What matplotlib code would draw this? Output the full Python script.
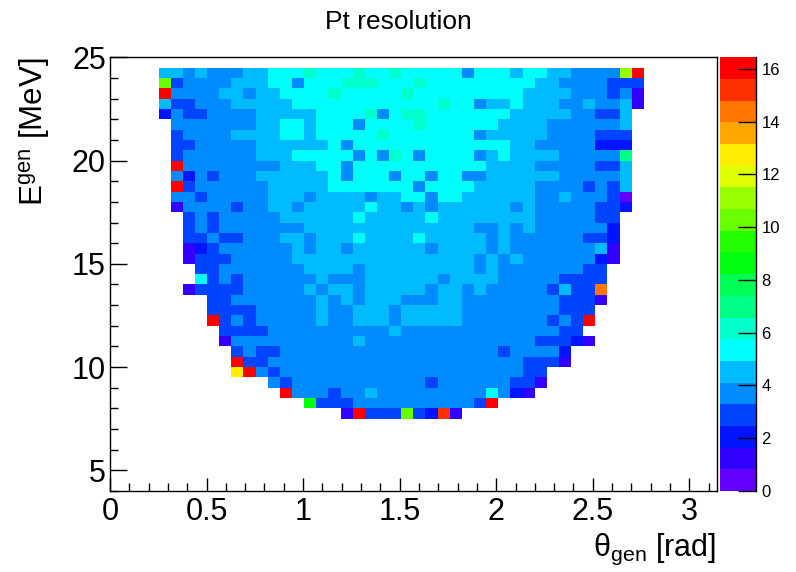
import colorsys

import numpy as np
import matplotlib
matplotlib.use("Agg")
import matplotlib.pyplot as plt
from matplotlib.colors import ListedColormap, BoundaryNorm
from matplotlib.ticker import MultipleLocator, FormatStrFormatter

plt.rcParams["font.family"] = ["Liberation Sans", "DejaVu Sans"]
plt.rcParams["mathtext.fontset"] = "custom"
plt.rcParams["mathtext.rm"] = "Liberation Sans"
plt.rcParams["mathtext.it"] = "Liberation Sans:italic"
plt.rcParams["mathtext.bf"] = "Liberation Sans:bold"

# =======================
# Binning (TH2: 50 bins in theta over [0, pi], 0.5 MeV bins in E over [4, 25])
# =======================
theta_edges = np.linspace(0.0, np.pi, 51)
e_edges = np.arange(4.0, 25.01, 0.5)
first_theta_bin = 4      # first filled theta column
top_row_e = 24.0         # lower edge of the first row below
z_max = 16.44
n_contours = 20

# colour band of each bin
# (0-9, a=10 ... j=19 ; '.' = empty bin), rows go from E=24.0-24.5 down to 7.5-8.0
level_rows = [
    "55454445566676" "6676676666646" "66566554444dj",
    "c3444455566466" "6777666766666" "6666554444333",
    "j4444554556666" "7666667666666" "6665555444341",
    "53344455555666" "6666666667664" "5565554454451",
    "24334444555556" "6667467766666" "665555544335.",
    ".4444444556656" "6646666766666" "655554444445.",
    ".3444455556656" "6666766666664" "555554444333.",
    ".3344444555555" "6466666666666" "665544444222.",
    ".3444444555666" "6646476466664" "565555444448.",
    ".j444444445556" "6466666666666" "555544444335.",
    ".4243444555555" "6466646646644" "555555444445.",
    ".j344444455555" "6666666466665" "555544443435.",
    ".4434444455545" "5554556646655" "555544544430.",
    ".1444434455455" "5556554545555" "554544444332.",
    "..343444445555" "5565555565555" "55554444433..",
    "..343444444455" "5555555555554" "45454444442..",
    "..334334445545" "5565555655555" "45444444332..",
    "..123444444545" "5455555545555" "45444444451..",
    "..133344444555" "5555555555554" "54544444421..",
    "...33444444455" "5545555555554" "5444444433...",
    "...63434444445" "4445555554555" "5444443333...",
    "..133334444454" "5545555545545" "444443533h...",
    "....3344444445" "4545554445544" "4444443331...",
    "....3333444445" "4455545555544" "444444333....",
    "....j343444445" "4455545555544" "44444343j....",
    ".....333344444" "4444454444444" "44444433.....",
    ".....144444444" "4454444444444" "444433321....",
    "......34334444" "4444444444444" "4344442......",
    "......j3344444" "4444444444444" "4443331......",
    "......fj434444" "4444444444444" "44433........",
    ".........43444" "4444444434444" "44331........",
    "..........j444" "3445444444444" "6421.........",
    "............a3" "3344444444443" "j............",
    ".............." ".1j333c32i1.." ".............",
]


# =======================
# ROOT "pretty" palette (gStyle->SetPalette(1)) with 20 contours
# =======================
def root_pretty_cmap(ncont):
    cols = []
    for k in range(ncont):
        i = int((k + 0.99) * 50 / ncont)
        if i >= 49:
            cols.append((1.0, 0.0, 0.0))
        else:
            hue = 280.0 - (i + 1) * 280.0 / 50
            cols.append(colorsys.hls_to_rgb(hue / 360.0, 0.5, 1.0))
    return ListedColormap(cols)


dz = z_max / n_contours
Z = np.full((len(e_edges) - 1, len(theta_edges) - 1), np.nan)
for r, row in enumerate(level_rows):
    j = int(round((top_row_e - 0.5 * r - e_edges[0]) / 0.5))
    for c, ch in enumerate(row):
        if ch != ".":
            Z[j, first_theta_bin + c] = (int(ch, 20) + 0.5) * dz

cmap = root_pretty_cmap(n_contours)
levels = np.linspace(0, z_max, n_contours + 1)
norm = BoundaryNorm(levels, cmap.N)

fig = plt.figure(figsize=(7.96, 5.72), dpi=100)
ax = fig.add_axes([0.1382, 0.1416, 0.7621, 0.7582])
cax = fig.add_axes([0.9045, 0.1416, 0.0452, 0.7582])

mesh = ax.pcolormesh(theta_edges, e_edges, np.ma.masked_invalid(Z), cmap=cmap,
                     norm=norm, shading="flat", edgecolors="none", antialiased=False)
ax.set_xlim(0, np.pi)
ax.set_ylim(4, 25)

# axes in ROOT style
ax.xaxis.set_major_locator(MultipleLocator(0.5))
ax.xaxis.set_minor_locator(MultipleLocator(0.1))
ax.yaxis.set_major_locator(MultipleLocator(5))
ax.yaxis.set_minor_locator(MultipleLocator(1))
ax.xaxis.set_major_formatter(FormatStrFormatter("%g"))
ax.yaxis.set_major_formatter(FormatStrFormatter("%g"))
ax.tick_params(which="both", direction="in", top=False, right=False, width=1, labelsize=22)
ax.xaxis.set_tick_params(which="major", length=9.5, pad=4)
ax.xaxis.set_tick_params(which="minor", length=5.5)
ax.yaxis.set_tick_params(which="major", length=12.5, pad=3)
ax.yaxis.set_tick_params(which="minor", length=6)
for sp in ax.spines.values():
    sp.set_linewidth(1)

# palette axis
cbar = fig.colorbar(mesh, cax=cax, ticks=np.arange(0, 17, 2))
cbar.outline.set_visible(False)
cax.yaxis.set_major_formatter(FormatStrFormatter("%g"))
cax.tick_params(direction="in", length=13, width=1, labelsize=12, pad=4)
cax.minorticks_off()
cax.plot([1, 1], [0, 1], transform=cax.transAxes, color="black", lw=1, clip_on=False)

# titles
fig.text(0.5, 1 - 29 / 572, "Pt resolution", ha="center", va="baseline", fontsize=19)
fig.text(43 / 796, 1 - 57.3 / 572, r"$\mathrm{E}^{\mathrm{gen}}$ [MeV]", rotation=90,
         rotation_mode="anchor", ha="right", va="baseline", fontsize=22.5)
fig.text(716.6 / 796, 1 - 556 / 572, r"$\mathrm{\theta}_{\mathrm{gen}}$ [rad]",
         ha="right", va="baseline", fontsize=22)

fig.savefig("out.png", dpi=100)
